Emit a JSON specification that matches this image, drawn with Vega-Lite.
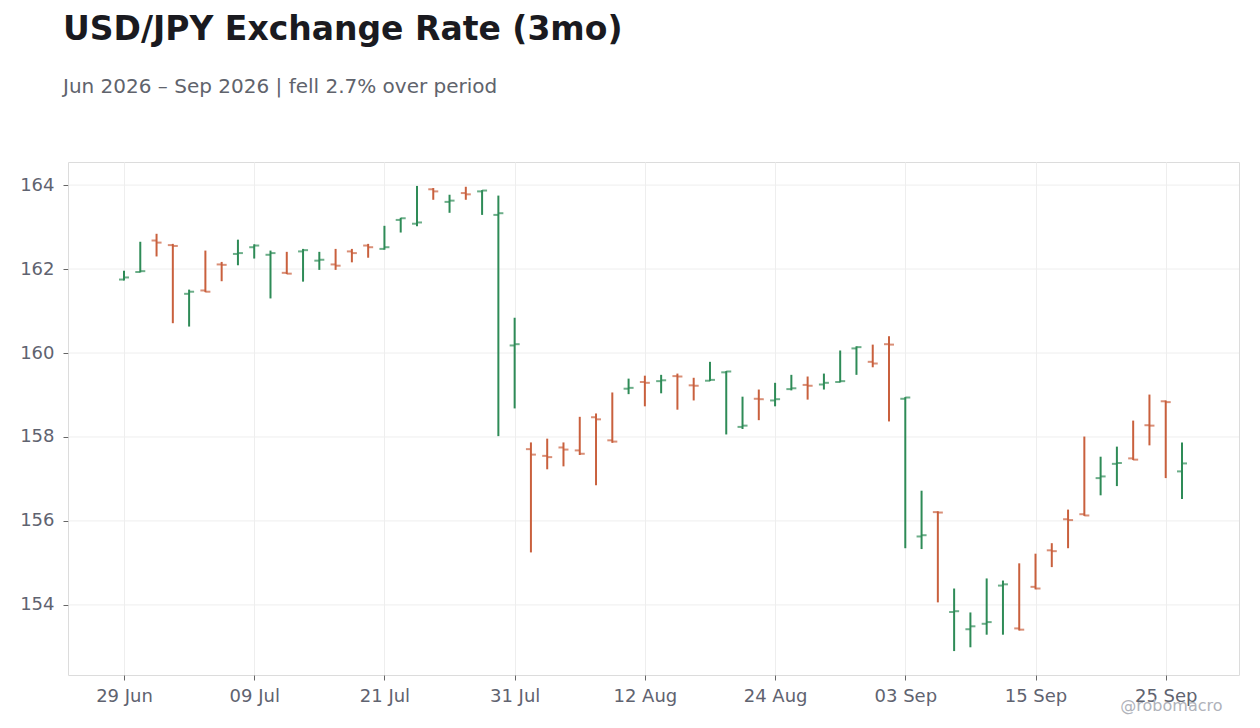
{
  "$schema": "https://vega.github.io/schema/vega-lite/v6.json",
  "autosize": "none",
  "padding": {"left": 68, "top": 162, "right": 21, "bottom": 53},
  "width": 1171,
  "height": 513,
  "background": "#ffffff",
  "title": {
    "text": "USD/JPY Exchange Rate (3mo)",
    "subtitle": "Jun 2026 – Sep 2026 | fell 2.7% over period",
    "anchor": "start",
    "frame": "group",
    "dx": -5,
    "offset": 65,
    "font": "DejaVu Sans",
    "fontSize": 33,
    "fontWeight": "bold",
    "color": "#1a1a20",
    "subtitleFont": "DejaVu Sans",
    "subtitleFontSize": 20,
    "subtitleColor": "#60636c",
    "subtitlePadding": 30
  },
  "config": {
    "view": {"stroke": "#dcdcdc"},
    "axis": {
      "labelFont": "DejaVu Sans",
      "labelFontSize": 18,
      "labelColor": "#5f6370",
      "tickColor": "#666666",
      "tickSize": 5,
      "gridColor": "#eeeeee",
      "domain": false
    }
  },
  "layer": [
    {
      "data": {"values": [{"level": 154}, {"level": 156}, {"level": 158}, {"level": 160}, {"level": 162}, {"level": 164}]},
      "mark": {"type": "rule", "color": "#eeeeee", "strokeWidth": 1},
      "encoding": {
        "y": {
          "field": "level",
          "type": "quantitative",
          "scale": {"domain": [152.33, 164.55], "nice": false, "zero": false},
          "axis": {"values": [154, 156, 158, 160, 162, 164], "title": null, "labelPadding": 9, "grid": false}
        }
      }
    },
    {
      "data": {
        "values": [
          {"date": "2026-06-29", "open": 161.75, "high": 161.96, "low": 161.73, "close": 161.80},
          {"date": "2026-06-30", "open": 161.93, "high": 162.65, "low": 161.92, "close": 161.95},
          {"date": "2026-07-01", "open": 162.68, "high": 162.84, "low": 162.30, "close": 162.63},
          {"date": "2026-07-02", "open": 162.57, "high": 162.60, "low": 160.71, "close": 162.55},
          {"date": "2026-07-03", "open": 161.41, "high": 161.51, "low": 160.63, "close": 161.46},
          {"date": "2026-07-06", "open": 161.49, "high": 162.44, "low": 161.45, "close": 161.46},
          {"date": "2026-07-07", "open": 162.11, "high": 162.17, "low": 161.71, "close": 162.10},
          {"date": "2026-07-08", "open": 162.36, "high": 162.70, "low": 162.09, "close": 162.38},
          {"date": "2026-07-09", "open": 162.52, "high": 162.59, "low": 162.25, "close": 162.56},
          {"date": "2026-07-10", "open": 162.34, "high": 162.44, "low": 161.30, "close": 162.38},
          {"date": "2026-07-13", "open": 161.91, "high": 162.41, "low": 161.88, "close": 161.89},
          {"date": "2026-07-14", "open": 162.42, "high": 162.48, "low": 161.70, "close": 162.45},
          {"date": "2026-07-15", "open": 162.20, "high": 162.41, "low": 161.98, "close": 162.22},
          {"date": "2026-07-16", "open": 162.11, "high": 162.48, "low": 161.98, "close": 162.08},
          {"date": "2026-07-17", "open": 162.42, "high": 162.48, "low": 162.16, "close": 162.38},
          {"date": "2026-07-20", "open": 162.56, "high": 162.60, "low": 162.27, "close": 162.52},
          {"date": "2026-07-21", "open": 162.48, "high": 163.03, "low": 162.46, "close": 162.52},
          {"date": "2026-07-22", "open": 163.17, "high": 163.22, "low": 162.87, "close": 163.21},
          {"date": "2026-07-23", "open": 163.08, "high": 163.98, "low": 163.02, "close": 163.11},
          {"date": "2026-07-24", "open": 163.90, "high": 163.93, "low": 163.65, "close": 163.85},
          {"date": "2026-07-27", "open": 163.60, "high": 163.77, "low": 163.34, "close": 163.63},
          {"date": "2026-07-28", "open": 163.81, "high": 163.96, "low": 163.65, "close": 163.78},
          {"date": "2026-07-29", "open": 163.85, "high": 163.88, "low": 163.29, "close": 163.87},
          {"date": "2026-07-30", "open": 163.29, "high": 163.75, "low": 158.02, "close": 163.33},
          {"date": "2026-07-31", "open": 160.18, "high": 160.84, "low": 158.68, "close": 160.21},
          {"date": "2026-08-03", "open": 157.71, "high": 157.87, "low": 155.25, "close": 157.58},
          {"date": "2026-08-04", "open": 157.55, "high": 157.96, "low": 157.23, "close": 157.52},
          {"date": "2026-08-05", "open": 157.75, "high": 157.87, "low": 157.30, "close": 157.70},
          {"date": "2026-08-06", "open": 157.68, "high": 158.48, "low": 157.57, "close": 157.60},
          {"date": "2026-08-07", "open": 158.47, "high": 158.56, "low": 156.85, "close": 158.42},
          {"date": "2026-08-10", "open": 157.92, "high": 159.06, "low": 157.86, "close": 157.89},
          {"date": "2026-08-11", "open": 159.15, "high": 159.39, "low": 159.02, "close": 159.17},
          {"date": "2026-08-12", "open": 159.31, "high": 159.46, "low": 158.73, "close": 159.29},
          {"date": "2026-08-13", "open": 159.33, "high": 159.48, "low": 159.04, "close": 159.35},
          {"date": "2026-08-14", "open": 159.45, "high": 159.51, "low": 158.65, "close": 159.44},
          {"date": "2026-08-17", "open": 159.23, "high": 159.41, "low": 158.87, "close": 159.22},
          {"date": "2026-08-18", "open": 159.34, "high": 159.79, "low": 159.33, "close": 159.36},
          {"date": "2026-08-19", "open": 159.54, "high": 159.57, "low": 158.06, "close": 159.56},
          {"date": "2026-08-20", "open": 158.24, "high": 158.96, "low": 158.19, "close": 158.27},
          {"date": "2026-08-21", "open": 158.91, "high": 159.13, "low": 158.40, "close": 158.90},
          {"date": "2026-08-24", "open": 158.87, "high": 159.29, "low": 158.73, "close": 158.90},
          {"date": "2026-08-25", "open": 159.14, "high": 159.48, "low": 159.11, "close": 159.16},
          {"date": "2026-08-26", "open": 159.24, "high": 159.44, "low": 158.89, "close": 159.22},
          {"date": "2026-08-27", "open": 159.25, "high": 159.51, "low": 159.13, "close": 159.29},
          {"date": "2026-08-28", "open": 159.31, "high": 160.06, "low": 159.30, "close": 159.33},
          {"date": "2026-08-31", "open": 160.11, "high": 160.16, "low": 159.48, "close": 160.14},
          {"date": "2026-09-01", "open": 159.79, "high": 160.20, "low": 159.66, "close": 159.75},
          {"date": "2026-09-02", "open": 160.21, "high": 160.40, "low": 158.37, "close": 160.20},
          {"date": "2026-09-03", "open": 158.91, "high": 158.95, "low": 155.35, "close": 158.94},
          {"date": "2026-09-04", "open": 155.63, "high": 156.72, "low": 155.33, "close": 155.66},
          {"date": "2026-09-07", "open": 156.21, "high": 156.23, "low": 154.06, "close": 156.20},
          {"date": "2026-09-08", "open": 153.83, "high": 154.39, "low": 152.90, "close": 153.85},
          {"date": "2026-09-09", "open": 153.42, "high": 153.82, "low": 152.99, "close": 153.49},
          {"date": "2026-09-10", "open": 153.55, "high": 154.63, "low": 153.29, "close": 153.59},
          {"date": "2026-09-11", "open": 154.46, "high": 154.58, "low": 153.29, "close": 154.49},
          {"date": "2026-09-14", "open": 153.44, "high": 154.99, "low": 153.39, "close": 153.41},
          {"date": "2026-09-15", "open": 154.43, "high": 155.22, "low": 154.37, "close": 154.39},
          {"date": "2026-09-16", "open": 155.30, "high": 155.47, "low": 154.90, "close": 155.28},
          {"date": "2026-09-17", "open": 156.04, "high": 156.27, "low": 155.35, "close": 156.02},
          {"date": "2026-09-18", "open": 156.16, "high": 158.01, "low": 156.12, "close": 156.13},
          {"date": "2026-09-21", "open": 157.02, "high": 157.53, "low": 156.61, "close": 157.06},
          {"date": "2026-09-22", "open": 157.36, "high": 157.77, "low": 156.83, "close": 157.38},
          {"date": "2026-09-23", "open": 157.49, "high": 158.39, "low": 157.45, "close": 157.46},
          {"date": "2026-09-24", "open": 158.28, "high": 159.01, "low": 157.80, "close": 158.27},
          {"date": "2026-09-25", "open": 158.85, "high": 158.87, "low": 157.02, "close": 158.83},
          {"date": "2026-09-28", "open": 157.18, "high": 157.87, "low": 156.52, "close": 157.37}
        ]
      },
      "encoding": {
        "x": {
          "field": "date",
          "type": "ordinal",
          "scale": {"type": "point", "padding": 0, "range": [56, 1114]},
          "axis": {
            "values": ["2026-06-29", "2026-07-09", "2026-07-21", "2026-07-31", "2026-08-12", "2026-08-24", "2026-09-03", "2026-09-15", "2026-09-25"],
            "labelExpr": "utcFormat(toDate(datum.value), '%d %b')",
            "labelAngle": 0,
            "labelPadding": 7,
            "grid": true,
            "title": "@robomacro",
            "titleFont": "DejaVu Sans",
            "titleFontSize": 16,
            "titleFontWeight": "normal",
            "titleColor": "#b0b2ba",
            "titleAlign": "right",
            "titleBaseline": "alphabetic",
            "titleX": 1154,
            "titleY": 35
          }
        },
        "color": {
          "condition": {"test": "datum.close >= datum.open", "value": "#2e8b57"},
          "value": "#c9603d"
        }
      },
      "layer": [
        {
          "mark": {"type": "rule", "strokeWidth": 2},
          "encoding": {
            "y": {"field": "low", "type": "quantitative"},
            "y2": {"field": "high"}
          }
        },
        {
          "mark": {"type": "tick", "orient": "horizontal", "size": 5, "thickness": 2, "xOffset": -2.5},
          "encoding": {"y": {"field": "open", "type": "quantitative"}}
        },
        {
          "mark": {"type": "tick", "orient": "horizontal", "size": 5, "thickness": 2, "xOffset": 2.5},
          "encoding": {"y": {"field": "close", "type": "quantitative"}}
        }
      ]
    }
  ]
}
